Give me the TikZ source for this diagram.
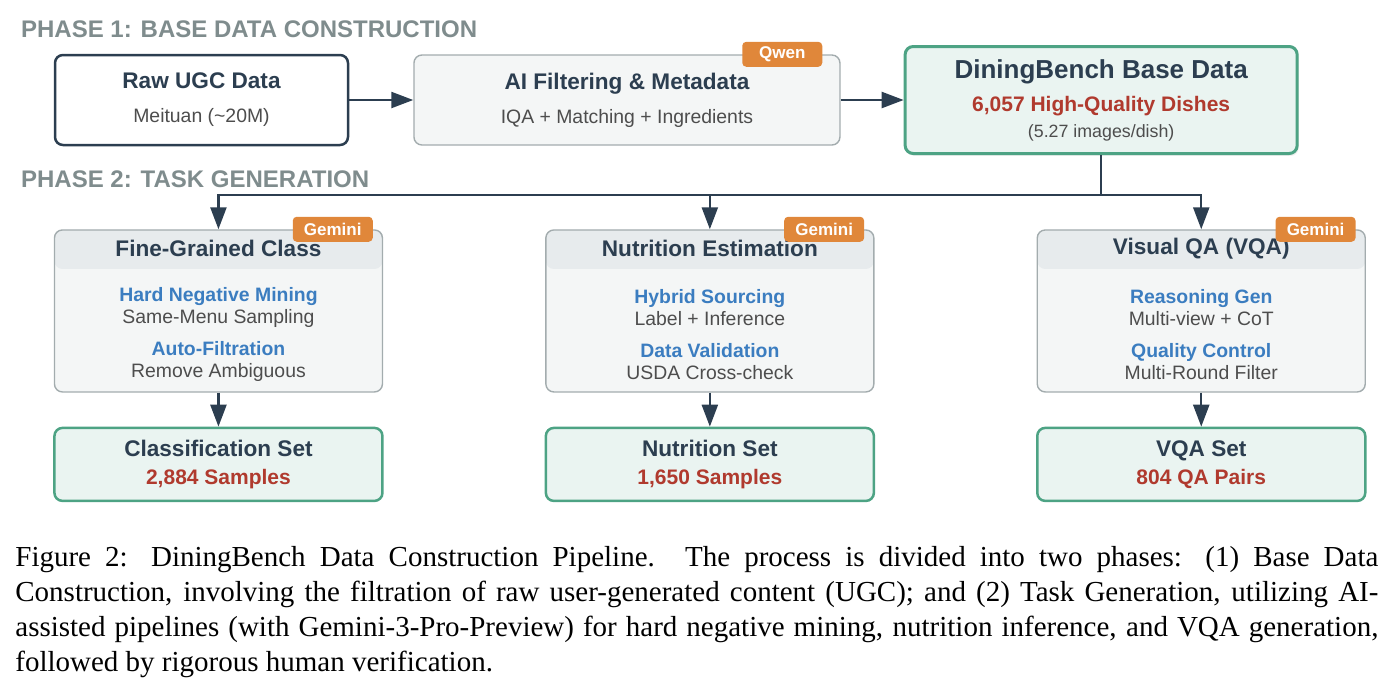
\documentclass[tikz,border=0pt]{standalone}
\usepackage{fontspec}
\setmainfont{Liberation Sans}
\newfontfamily\capfont{Liberation Serif}
\usepackage{tikz}
\usetikzlibrary{arrows.meta, positioning, shadows}
\usepackage{xcolor}
\definecolor{ink}{HTML}{2C3E50}
\definecolor{phasegray}{HTML}{7F8C8D}
\definecolor{subgray}{HTML}{4D4D4D}
\definecolor{hilite}{HTML}{B03A2E}
\definecolor{stepblue}{HTML}{3B7DC0}
\definecolor{okgreen}{HTML}{4DA384}
\definecolor{okfill}{HTML}{EAF4F1}
\definecolor{procfill}{HTML}{F4F6F6}
\definecolor{procline}{HTML}{A3ACAE}
\definecolor{bandfill}{HTML}{E7EBED}
\definecolor{tagorange}{HTML}{E0873A}

\newcommand{\boxtitle}[1]{{\fontsize{11.3}{12}\selectfont\bfseries\color{ink}#1}}
\newcommand{\countline}[1]{{\fontsize{10.5}{12}\selectfont\bfseries\color{hilite}#1}}
\newcommand{\stepname}[1]{{\bfseries\color{stepblue}#1}}

\begin{document}
\begin{tikzpicture}[
    src/.style={
        rectangle, rounded corners=4pt, draw=ink, line width=1.25pt,
        fill=white, minimum width=146.5pt, minimum height=45pt,
        align=center, font=\fontsize{9.7}{12}\selectfont, text=subgray
    },
    proc/.style={
        src, draw=procline, line width=0.7pt, fill=procfill, minimum width=213pt
    },
    core/.style={
        src, draw=okgreen, line width=1.5pt, fill=okfill,
        minimum width=196pt, minimum height=53.5pt,
        drop shadow={opacity=0.12, shadow xshift=0.8pt, shadow yshift=-1.2pt}
    },
    task/.style={
        rectangle, rounded corners=4pt, draw=procline, line width=0.7pt,
        fill=procfill, minimum width=164pt, minimum height=81pt,
        path picture={\fill[bandfill] (path picture bounding box.north west)
            rectangle ([yshift=-19.5pt]path picture bounding box.north east);}
    },
    result/.style={
        src, draw=okgreen, line width=1.25pt, fill=okfill,
        minimum width=164pt, minimum height=36.5pt
    },
    tag/.style={
        rectangle, rounded corners=2pt, fill=tagorange, text=white,
        font=\fontsize{8.5}{10}\selectfont\bfseries,
        minimum width=40pt, minimum height=12.5pt, inner sep=0pt
    },
    phase/.style={anchor=west, inner sep=0pt, text=phasegray,
        font=\fontsize{12}{14}\selectfont\bfseries},
    head/.style={inner sep=0pt, text=ink, font=\fontsize{11.3}{13}\selectfont\bfseries},
    body/.style={inner sep=0pt, align=center, text=subgray,
        font=\fontsize{9.7}{11}\selectfont},
    capnote/.style={anchor=north west, inner sep=0pt, text width=681.5pt,
        align=justify, font=\capfont\fontsize{14.5}{17.5}\selectfont},
    arr/.style={-{Triangle[length=11pt, width=8pt]}, line width=1.2pt, ink},
    link/.style={line width=1.2pt, ink},
]
\useasboundingbox (0,0) rectangle (698.5pt,-349pt);

% ── Phase 1 ────────────────────────────
\node[src] (raw) at (100.75pt,-50pt) {\boxtitle{Raw UGC Data}\\[5pt]Meituan (\textasciitilde20M)};
\node[proc, right=32pt of raw] (filt) {\boxtitle{AI Filtering \& Metadata}\\[5pt]IQA + Matching + Ingredients};
\node[core, right=31.5pt of filt] (base) {{\fontsize{13}{14}\selectfont\bfseries\color{ink}DiningBench Base Data}\\[4.5pt]
    \countline{6,057 High-Quality Dishes}\\[1pt]{\fontsize{8.9}{10}\selectfont (5.27 images/dish)}};
\node[tag, anchor=east] (qwen) at ([xshift=-9pt]filt.north east) {Qwen};

\node[phase] (ph1) at ([xshift=-16.5pt, yshift=12.5pt]raw.north west) {PHASE 1: BASE DATA CONSTRUCTION};
\node[phase] (ph2) at ([xshift=-16.5pt, yshift=-16.5pt]raw.south west) {PHASE 2: TASK GENERATION};

% ── Phase 2: tasks ─────────────────────
\node[task, below right=41.5pt and 0pt of raw.south west] (cls) {};
\node[task, right=81pt of cls] (nut) {};
\node[task, right=81pt of nut] (vqa) {};

\node[head] (cls-t) at ([yshift=-9.5pt]cls.north) {Fine-Grained Class};
\node[head] (nut-t) at ([yshift=-9.5pt]nut.north) {Nutrition Estimation};
\node[head] (vqa-t) at ([yshift=-9.5pt]vqa.north) {Visual QA (VQA)};

\node[body] (cls-b) at ([yshift=-52.5pt]cls.north) {\stepname{Hard Negative Mining}\\Same-Menu Sampling\\[5pt]\stepname{Auto-Filtration}\\Remove Ambiguous};
\node[body] (nut-b) at ([yshift=-52.5pt]nut.north) {\stepname{Hybrid Sourcing}\\Label + Inference\\[5pt]\stepname{Data Validation}\\USDA Cross-check};
\node[body] (vqa-b) at ([yshift=-52.5pt]vqa.north) {\stepname{Reasoning Gen}\\Multi-view + CoT\\[5pt]\stepname{Quality Control}\\Multi-Round Filter};

\node[tag, anchor=east] (gem1) at ([xshift=-5pt]cls.north east) {Gemini};
\node[tag, anchor=east] (gem2) at ([xshift=-5pt]nut.north east) {Gemini};
\node[tag, anchor=east] (gem3) at ([xshift=-5pt]vqa.north east) {Gemini};

% ── Phase 2: outputs ───────────────────
\node[result, below=17pt of cls] (clsset) {\boxtitle{Classification Set}\\[2pt]\countline{2,884 Samples}};
\node[result, below=17pt of nut] (nutset) {\boxtitle{Nutrition Set}\\[2pt]\countline{1,650 Samples}};
\node[result, below=17pt of vqa] (vqaset) {\boxtitle{VQA Set}\\[2pt]\countline{804 QA Pairs}};

% ── Connectors ─────────────────────────
\draw[arr] (raw) -- (filt);
\draw[arr] (filt) -- (base);
\coordinate[below=20pt of base] (split);
\draw[link] (base) -- (split);
\draw[arr] (split) -| (cls);
\draw[arr] (split) -| (nut);
\draw[arr] (split) -| (vqa);
\draw[arr] (cls) -- (clsset);
\draw[arr] (nut) -- (nutset);
\draw[arr] (vqa) -- (vqaset);

% ── Caption ────────────────────────────
\node[capnote] (cap) at (7.5pt,-273pt) {Figure 2: DiningBench Data Construction Pipeline.  The process is divided into two phases:  (1) Base Data\linebreak
Construction, involving the filtration of raw user-generated content (UGC); and (2) Task Generation, utilizing AI-\linebreak
assisted pipelines (with Gemini-3-Pro-Preview) for hard negative mining, nutrition inference, and VQA generation,\linebreak
followed by rigorous human verification.};

\end{tikzpicture}
\end{document}
